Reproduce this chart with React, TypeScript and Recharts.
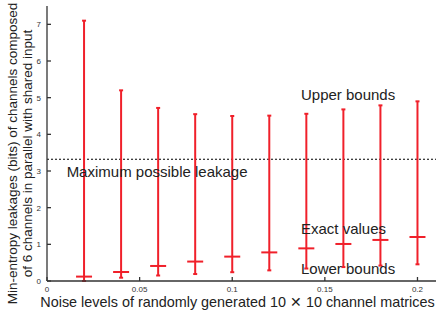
import {
  ComposedChart,
  ErrorBar,
  ReferenceDot,
  ReferenceLine,
  Scatter,
  XAxis,
  YAxis,
} from "recharts";

const noiseLevels = [0.02, 0.04, 0.06, 0.08, 0.1, 0.12, 0.14, 0.16, 0.18, 0.2];
const lowerBounds = [0, 0.09, 0.15, 0.19, 0.24, 0.29, 0.34, 0.38, 0.42, 0.455];
const exactValues = [0.12, 0.245, 0.41, 0.53, 0.665, 0.78, 0.89, 1.01, 1.12, 1.2];
const upperBounds = [7.1, 5.2, 4.72, 4.55, 4.5, 4.51, 4.56, 4.68, 4.79, 4.9];
const maxLeakage = 3.32;

const xTicks = [0, 0.05, 0.1, 0.15, 0.2];
const yTicks = [0, 1, 2, 3, 4, 5, 6, 7];

const RED = "#f0202a";
const AXIS = "#333";
const FONT = "'Liberation Sans', Arial, Helvetica, sans-serif";

const rows = noiseLevels.map((x, i) => ({
  x,
  exact: exactValues[i],
  err: [exactValues[i] - lowerBounds[i], upperBounds[i] - exactValues[i]],
}));

// horizontal bar of the "+" marking the exact value
const CrossMark = (props: any) => {
  const { cx, cy } = props;
  return <line x1={cx - 8} x2={cx + 8} y1={cy} y2={cy} stroke={RED} strokeWidth={2} />;
};

const note = (text: string) => (props: any) => (
  <text x={props.cx} y={props.cy} fontSize={15} fill="#222" fontFamily={FONT}>
    {text}
  </text>
);

const YLabel = (props: any) => {
  const { viewBox } = props;
  const cy = viewBox.y + viewBox.height / 2 + 10;
  return (
    <g fontFamily={FONT} fontSize={13.5} fill="#222" textAnchor="middle">
      <text transform={`translate(17,${cy}) rotate(-90)`}>
        Min-entropy leakages (bits) of channels composed
      </text>
      <text transform={`translate(32,${cy}) rotate(-90)`}>
        of 6 channels in parallel with shared input
      </text>
    </g>
  );
};

const XLabel = (props: any) => {
  const { viewBox } = props;
  return (
    <text
      x={viewBox.x + viewBox.width / 2 - 4}
      y={307}
      fontFamily={FONT}
      fontSize={14.4}
      fill="#222"
      textAnchor="middle"
    >
      Noise levels of randomly generated 10 ✕ 10 channel matrices
    </text>
  );
};

const tickStyle = { fontSize: 8, fill: AXIS, fontFamily: FONT };
const lineStyle = { stroke: AXIS, strokeWidth: 1.3 };

export default function App() {
  return (
    <div style={{ position: "absolute", left: 0, top: 0, background: "#fff" }}>
      <ComposedChart
        width={438}
        height={318}
        data={rows}
        margin={{ top: 6, right: 2, bottom: 0, left: 0 }}
      >
        <XAxis
          type="number"
          dataKey="x"
          domain={[0, 0.21]}
          ticks={xTicks}
          height={37}
          tick={tickStyle}
          tickSize={-4}
          tickMargin={9}
          axisLine={lineStyle}
          tickLine={lineStyle}
          label={<XLabel />}
        />
        <XAxis
          xAxisId="top"
          orientation="top"
          type="number"
          dataKey="x"
          domain={[0, 0.21]}
          ticks={xTicks}
          height={0}
          tickFormatter={() => ""}
          tickSize={-4}
          axisLine={lineStyle}
          tickLine={lineStyle}
        />
        <YAxis
          type="number"
          domain={[0, 7.5]}
          ticks={yTicks}
          width={47}
          tick={tickStyle}
          tickSize={-4}
          tickMargin={10}
          axisLine={lineStyle}
          tickLine={lineStyle}
          label={<YLabel />}
        />
        <YAxis
          yAxisId="right"
          orientation="right"
          type="number"
          domain={[0, 7.5]}
          ticks={yTicks}
          width={0}
          tickFormatter={() => ""}
          tickSize={-4}
          axisLine={lineStyle}
          tickLine={lineStyle}
        />
        <ReferenceLine y={maxLeakage} stroke="#000" strokeWidth={1.2} strokeDasharray="2 2" />
        <Scatter dataKey="exact" shape={<CrossMark />} isAnimationActive={false}>
          <ErrorBar
            dataKey="err"
            direction="y"
            width={2}
            stroke={RED}
            strokeWidth={2}
            isAnimationActive={false}
          />
        </Scatter>
        <ReferenceDot x={0.0106} y={2.84} r={0} shape={note("Maximum possible leakage")} />
        <ReferenceDot x={0.1371} y={4.94} r={0} shape={note("Upper bounds")} />
        <ReferenceDot x={0.1371} y={1.27} r={0} shape={note("Exact values")} />
        <ReferenceDot x={0.1371} y={0.18} r={0} shape={note("Lower bounds")} />
      </ComposedChart>
    </div>
  );
}
